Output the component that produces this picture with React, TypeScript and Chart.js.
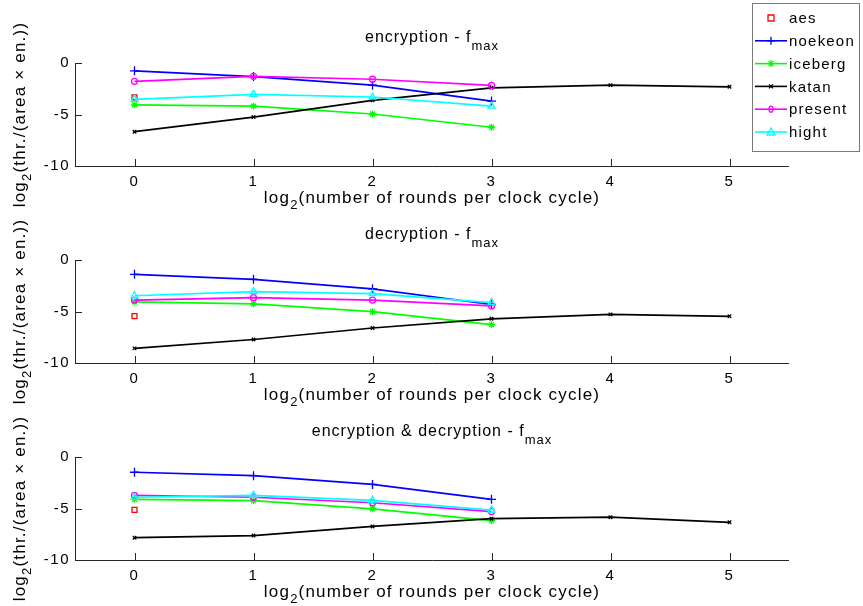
import { useEffect, useRef } from "react";
import { Chart, registerables } from "chart.js";
Chart.register(...registerables);

const FONT = "'Liberation Sans', Arial, Helvetica, sans-serif";

// x values: log2(number of rounds per clock cycle)
const rounds = [0, 1, 2, 3, 4, 5];
const xTicks = [0, 1, 2, 3, 4, 5];
const yTicks = [-10, -5, 0];
const seriesNames = ["aes", "noekeon", "iceberg", "katan", "present", "hight"];
const seriesColors = ["#ff0000", "#0000ff", "#00ff00", "#000000", "#ff00ff", "#00ffff"];

// encryption - f_max
const encAes = [-3.33];
const encNoekeon = [-0.76, -1.32, -2.15, -3.7];
const encIceberg = [-4.06, -4.19, -4.95, -6.24];
const encKatan = [-6.67, -5.25, -3.63, -2.41, -2.15, -2.31];
const encPresent = [-1.78, -1.29, -1.58, -2.18];
const encHight = [-3.53, -3.04, -3.3, -4.19];

// decryption - f_max
const decAes = [-5.45];
const decNoekeon = [-1.39, -1.88, -2.8, -4.32];
const decIceberg = [-4.06, -4.26, -5.02, -6.27];
const decKatan = [-8.58, -7.72, -6.6, -5.71, -5.28, -5.47];
const decPresent = [-3.89, -3.66, -3.89, -4.46];
const decHight = [-3.47, -3.07, -3.27, -4.13];

// encryption & decryption - f_max
const bothAes = [-5.13];
const bothNoekeon = [-1.48, -1.81, -2.66, -4.11];
const bothIceberg = [-4.11, -4.24, -5.03, -6.18];
const bothKatan = [-7.83, -7.63, -6.74, -5.99, -5.84, -6.34];
const bothPresent = [-3.72, -3.91, -4.44, -5.3];
const bothHight = [-3.91, -3.72, -4.21, -5.16];

const titles = ["encryption - f", "decryption - f", "encryption & decryption - f"];
const titleSub = "max";
const xLabelMain = "log";
const xLabelSub = "2";
const xLabelRest = "(number of rounds per clock cycle)";
const yLabelRest = "(thr./(area \u00d7 en.))";

const CANVAS_W = 863;
const CANVAS_H = 215;
const PLOT_TOP = 63;
const PLOT_BOTTOM = 166;
const PLOT_LEFT = 75;
const PLOT_RIGHT = 789;
const canvasTops = [0, 197, 394];

type Part = { t: string; sub?: boolean };

function drawRich(
  ctx: CanvasRenderingContext2D,
  parts: Part[],
  cx: number,
  baseline: number,
  size: number,
  subSize: number,
  drop: number,
  spacing: string
) {
  ctx.save();
  (ctx as any).letterSpacing = spacing;
  ctx.fillStyle = "#000";
  ctx.textBaseline = "alphabetic";
  ctx.textAlign = "left";
  const widths = parts.map((p) => {
    ctx.font = `${p.sub ? subSize : size}px ${FONT}`;
    return ctx.measureText(p.t).width;
  });
  const total = widths.reduce((a, b) => a + b, 0);
  let x = cx - total / 2;
  parts.forEach((p, i) => {
    ctx.font = `${p.sub ? subSize : size}px ${FONT}`;
    ctx.fillText(p.t, x, baseline + (p.sub ? drop : 0));
    x += widths[i];
  });
  ctx.restore();
}

function drawMarker(ctx: CanvasRenderingContext2D, style: string, x: number, y: number, color: string) {
  ctx.save();
  ctx.strokeStyle = color;
  ctx.fillStyle = color;
  ctx.lineWidth = 1.3;
  ctx.beginPath();
  if (style === "rect") {
    ctx.rect(x - 3, y - 3, 6, 6);
    ctx.stroke();
  } else if (style === "cross") {
    ctx.moveTo(x - 4, y); ctx.lineTo(x + 4, y);
    ctx.moveTo(x, y - 4); ctx.lineTo(x, y + 4);
    ctx.stroke();
  } else if (style === "star") {
    ctx.moveTo(x - 3.5, y); ctx.lineTo(x + 3.5, y);
    ctx.moveTo(x, y - 3.5); ctx.lineTo(x, y + 3.5);
    ctx.moveTo(x - 2.5, y - 2.5); ctx.lineTo(x + 2.5, y + 2.5);
    ctx.moveTo(x - 2.5, y + 2.5); ctx.lineTo(x + 2.5, y - 2.5);
    ctx.stroke();
  } else if (style === "crossRot") {
    ctx.moveTo(x - 2, y - 2); ctx.lineTo(x + 2, y + 2);
    ctx.moveTo(x - 2, y + 2); ctx.lineTo(x + 2, y - 2);
    ctx.stroke();
  } else if (style === "circle") {
    ctx.ellipse(x, y, 2, 3, 0, 0, Math.PI * 2);
    ctx.stroke();
  } else if (style === "triangle") {
    ctx.moveTo(x, y - 4); ctx.lineTo(x + 4, y + 3); ctx.lineTo(x - 4, y + 3); ctx.closePath();
    ctx.stroke();
  }
  ctx.restore();
}

const markerStyles = ["rect", "cross", "star", "crossRot", "circle", "triangle"];

function makeDatasets(aes: number[], noekeon: number[], iceberg: number[], katan: number[], present: number[], hight: number[]) {
  const pts = (arr: number[]) => arr.map((y, i) => ({ x: rounds[i], y }));
  const all = [aes, noekeon, iceberg, katan, present, hight];
  const radii = [3.5, 4.5, 3.5, 2.5, 3, 4];
  return all.map((arr, i) => ({
    label: seriesNames[i],
    data: pts(arr),
    borderColor: seriesColors[i],
    backgroundColor: seriesColors[i],
    borderWidth: 1.7,
    showLine: i !== 0,
    tension: 0,
    pointStyle: markerStyles[i],
    pointRadius: radii[i],
    pointBorderWidth: 1.3,
    pointBorderColor: seriesColors[i],
    pointBackgroundColor: "rgba(0,0,0,0)",
    order: 6 - i,
  }));
}

function makeDecor(index: number) {
  return {
    id: "decor" + index,
    beforeDraw(chart: any) {
      (chart.ctx as any).letterSpacing = "1.5px";
    },
    afterDraw(chart: any) {
      const ctx: CanvasRenderingContext2D = chart.ctx;
      (ctx as any).letterSpacing = "0px";
      const { left, right, top, bottom } = chart.chartArea;
      const xs = chart.scales.x;
      const ys = chart.scales.y;
      ctx.save();
      ctx.strokeStyle = "#262626";
      ctx.lineWidth = 1;
      ctx.beginPath();
      ctx.moveTo(left + 0.5, top);
      ctx.lineTo(left + 0.5, bottom + 0.5);
      ctx.lineTo(right, bottom + 0.5);
      xTicks.forEach((v) => {
        const px = Math.round(xs.getPixelForValue(v)) + 0.5;
        ctx.moveTo(px, bottom);
        ctx.lineTo(px, bottom - 7);
      });
      yTicks.forEach((v) => {
        const py = Math.round(ys.getPixelForValue(v)) + 0.5;
        ctx.moveTo(left, py);
        ctx.lineTo(left + 7, py);
      });
      ctx.stroke();
      ctx.restore();

      const cx = (left + right) / 2;
      drawRich(ctx, [{ t: titles[index] }, { t: titleSub, sub: true }], cx, top - 21, 16, 13, 8, "1px");
      drawRich(ctx, [{ t: xLabelMain }, { t: xLabelSub, sub: true }, { t: xLabelRest }], cx, bottom + 37, 17, 13, 6, "1.2px");

      ctx.save();
      ctx.translate(25, (top + bottom) / 2);
      ctx.rotate(-Math.PI / 2);
      drawRich(ctx, [{ t: xLabelMain }, { t: xLabelSub, sub: true }, { t: yLabelRest }], 0, 0, 17, 13, 6, "1.2px");
      ctx.restore();

      if (index === 0) {
        const bx = 752, by = 3, bw = 107, bh = 148;
        ctx.save();
        ctx.fillStyle = "#fff";
        ctx.fillRect(bx, by, bw, bh);
        ctx.strokeStyle = "#7a7a7a";
        ctx.lineWidth = 1;
        ctx.strokeRect(bx + 0.5, by + 0.5, bw, bh);
        const rowStart = 18, rowStep = 22.8;
        seriesNames.forEach((name, i) => {
          const y = rowStart + i * rowStep;
          if (i !== 0) {
            ctx.strokeStyle = seriesColors[i];
            ctx.lineWidth = 1.6;
            ctx.beginPath();
            ctx.moveTo(755, y);
            ctx.lineTo(787, y);
            ctx.stroke();
          }
          drawMarker(ctx, markerStyles[i], 771, y, seriesColors[i]);
          ctx.fillStyle = "#000";
          ctx.font = `15px ${FONT}`;
          (ctx as any).letterSpacing = "1.2px";
          ctx.textBaseline = "middle";
          ctx.textAlign = "left";
          ctx.fillText(name, 789, y + 1);
        });
        ctx.restore();
      }
    },
  };
}

const allData = [
  [encAes, encNoekeon, encIceberg, encKatan, encPresent, encHight],
  [decAes, decNoekeon, decIceberg, decKatan, decPresent, decHight],
  [bothAes, bothNoekeon, bothIceberg, bothKatan, bothPresent, bothHight],
];

function SubPlot({ index }: { index: number }) {
  const ref = useRef<HTMLCanvasElement | null>(null);
  useEffect(() => {
    if (!ref.current) return;
    const d = allData[index];
    const chart = new Chart(ref.current, {
      type: "line",
      data: { datasets: makeDatasets(d[0], d[1], d[2], d[3], d[4], d[5]) as any },
      options: {
        animation: false,
        responsive: false,
        maintainAspectRatio: false,
        layout: {
          padding: { left: PLOT_LEFT - 40, right: CANVAS_W - PLOT_RIGHT, top: PLOT_TOP, bottom: CANVAS_H - PLOT_BOTTOM - 30 },
        },
        plugins: { legend: { display: false }, tooltip: { enabled: false }, title: { display: false } },
        scales: {
          x: {
            type: "linear",
            min: -0.5,
            max: 5.5,
            afterBuildTicks: (s: any) => {
              s.ticks = xTicks.map((v) => ({ value: v }));
            },
            afterFit: (s: any) => {
              s.height = 30;
            },
            grid: { display: false, drawTicks: false },
            border: { display: false },
            ticks: { padding: 7, color: "#000", font: { family: FONT, size: 15 } },
          },
          y: {
            type: "linear",
            min: -10,
            max: 0,
            afterBuildTicks: (s: any) => {
              s.ticks = yTicks.map((v) => ({ value: v }));
            },
            afterFit: (s: any) => {
              s.width = 40;
            },
            grid: { display: false, drawTicks: false },
            border: { display: false },
            ticks: { padding: 5, color: "#000", font: { family: FONT, size: 15 } },
          },
        },
      },
      plugins: [makeDecor(index)],
    });
    return () => chart.destroy();
  }, [index]);
  return (
    <canvas
      ref={ref}
      width={CANVAS_W}
      height={CANVAS_H}
      style={{ position: "absolute", left: 0, top: canvasTops[index], width: CANVAS_W, height: CANVAS_H }}
    />
  );
}

export default function App() {
  return (
    <div style={{ position: "absolute", left: 0, top: 0, width: 863, height: 606, overflow: "hidden", background: "#fff" }}>
      <SubPlot index={0} />
      <SubPlot index={1} />
      <SubPlot index={2} />
    </div>
  );
}
